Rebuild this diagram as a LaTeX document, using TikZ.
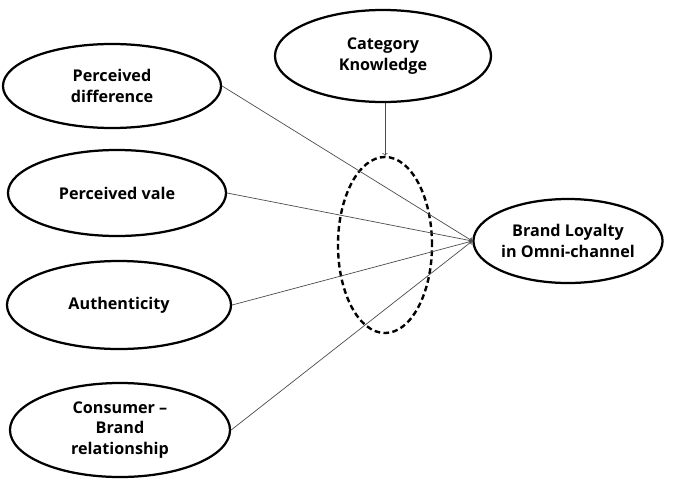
\documentclass[tikz,border=0pt]{standalone}
\usepackage{fontspec}
\setmainfont{Open Sans}
\usetikzlibrary{shapes.geometric}

\tikzset{
    construct/.style={ellipse,draw,line width=1.6pt,inner sep=0pt,align=center,
        font=\fontsize{11.5}{14.8}\selectfont\bfseries},
    moderator/.style={ellipse,draw,line width=1.7pt,inner sep=0pt,
        dash pattern=on 4pt off 2.4pt},
    path/.style={->,black!70,line width=0.5pt}
}

\begin{document}
\begin{tikzpicture}[x=0.025cm,y=-0.025cm,>=to]
    \useasboundingbox (0,0) rectangle (682,480);

    % Independent constructs
    \node[construct,minimum width=5.45cm,minimum height=2.1cm] (pd) at (112,86)
        {Perceived\\difference};
    \node[construct,minimum width=5.45cm,minimum height=2.15cm] (pv) at (117,193)
        {Perceived vale};
    \node[construct,minimum width=5.6cm,minimum height=2.2cm] (auth) at (119,305)
        {Authenticity};
    \node[construct,minimum width=5.5cm,minimum height=2.35cm] (cbr) at (120,430)
        {Consumer --\\Brand\\relationship};

    % Moderator and outcome
    \node[construct,minimum width=5.4cm,minimum height=2.3cm] (ck) at (383,56)
        {Category\\Knowledge};
    \node[construct,minimum width=4.65cm,minimum height=2.1cm] (bl) at (568,241)
        {Brand Loyalty\\in Omni-channel};
    \node[moderator,minimum width=2.35cm,minimum height=4.4cm] (mod) at (385,245) {};

    \foreach \src in {pd,pv,auth,cbr}{
        \draw[path] (\src.east) -- (bl.west);
    }
    \draw[path] (ck.south -| mod.north) -- (mod.north);
\end{tikzpicture}
\end{document}
